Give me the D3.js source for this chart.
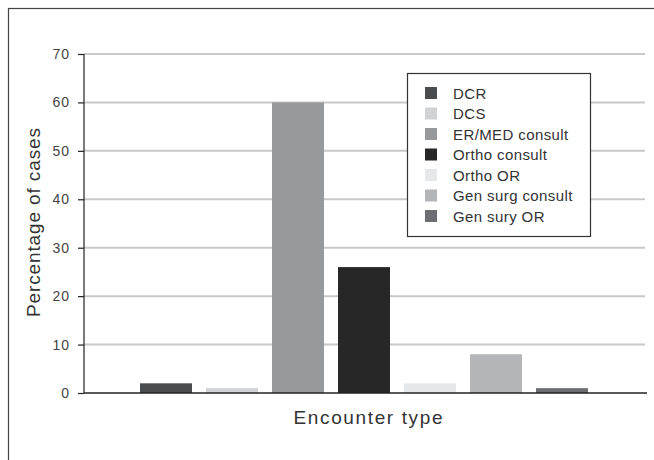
<!DOCTYPE html>
<html><head><meta charset="utf-8">
<script src="https://cdn.jsdelivr.net/npm/d3@7"></script>
<style>html,body{margin:0;padding:0;background:#fff;}svg{display:block;font-family:"Liberation Sans",Arial,sans-serif;}</style>
</head><body>
<svg id="c" width="654" height="460"></svg>
<script>
const categories = ["DCR","DCS","ER/MED consult","Ortho consult","Ortho OR","Gen surg consult","Gen sury OR"];
const values = [2, 1, 60, 26, 2, 8, 1];
const colors = ["#4b4c4e","#d1d2d4","#98999c","#282728","#e6e7e8","#b4b5b8","#6d6e71"];
const yTicks = [0,10,20,30,40,50,60,70];

const svg = d3.select("#c");
svg.append("rect").attr("x",8.5).attr("y",8.5).attr("width",660).attr("height",470)
  .attr("fill","none").attr("stroke","#444").attr("stroke-width",1.2);

const y = d3.scaleLinear().domain([0,70]).range([393,54]);
const x = d3.scaleBand().domain(categories).range([133,595]).paddingInner(0.212).paddingOuter(0.106);

// gridlines
svg.append("g").selectAll("line").data(yTicks.filter(d=>d>0)).join("line")
  .attr("x1",84).attr("x2",645).attr("y1",d=>y(d)).attr("y2",d=>y(d))
  .attr("stroke","#c8c8c8").attr("stroke-width",2);

// bars
svg.append("g").selectAll("rect").data(categories).join("rect")
  .attr("x",d=>x(d)).attr("width",x.bandwidth())
  .attr("y",(d,i)=>y(values[i])).attr("height",(d,i)=>y(0)-y(values[i]))
  .attr("fill",(d,i)=>colors[i]);

// y axis
const ya = svg.append("g").attr("transform","translate(84,0)")
  .call(d3.axisLeft(y).tickValues(yTicks).tickSize(6).tickPadding(8));
ya.select(".domain").attr("stroke","#222").attr("stroke-width",1.2).attr("d","M0,54V393");
ya.selectAll(".tick line").attr("stroke","#222").attr("stroke-width",1.2);
ya.selectAll(".tick text").attr("font-size",14).attr("fill","#444")
  .attr("letter-spacing",1).attr("font-family","Liberation Sans, Arial, sans-serif");

// x axis line
svg.append("line").attr("x1",84).attr("x2",647).attr("y1",393).attr("y2",393)
  .attr("stroke","#222").attr("stroke-width",1.5);

// titles
svg.append("text").attr("x",368).attr("y",424).attr("text-anchor","middle")
  .attr("font-size",19).attr("fill","#333")
  .attr("textLength",149).attr("lengthAdjust","spacing").text("Encounter type");
svg.append("text").attr("transform","translate(40,222.5) rotate(-90)").attr("text-anchor","middle")
  .attr("font-size",19).attr("fill","#333")
  .attr("textLength",189).attr("lengthAdjust","spacing").text("Percentage of cases");

// legend
const lg = svg.append("g");
lg.append("rect").attr("x",407.5).attr("y",73.5).attr("width",183).attr("height",163)
  .attr("fill","#fff").attr("stroke","#333").attr("stroke-width",1.2);
const items = lg.selectAll("g.it").data(categories).join("g").attr("class","it")
  .attr("transform",(d,i)=>`translate(425,${93 + i*20.5})`);
items.append("rect").attr("x",0).attr("y",-6).attr("width",12).attr("height",12).attr("fill",(d,i)=>colors[i]);
items.append("text").attr("x",28).attr("y",5.5).attr("font-size",15).attr("fill","#333")
  .attr("letter-spacing",0.4).text(d=>d);
</script>
</body></html>
